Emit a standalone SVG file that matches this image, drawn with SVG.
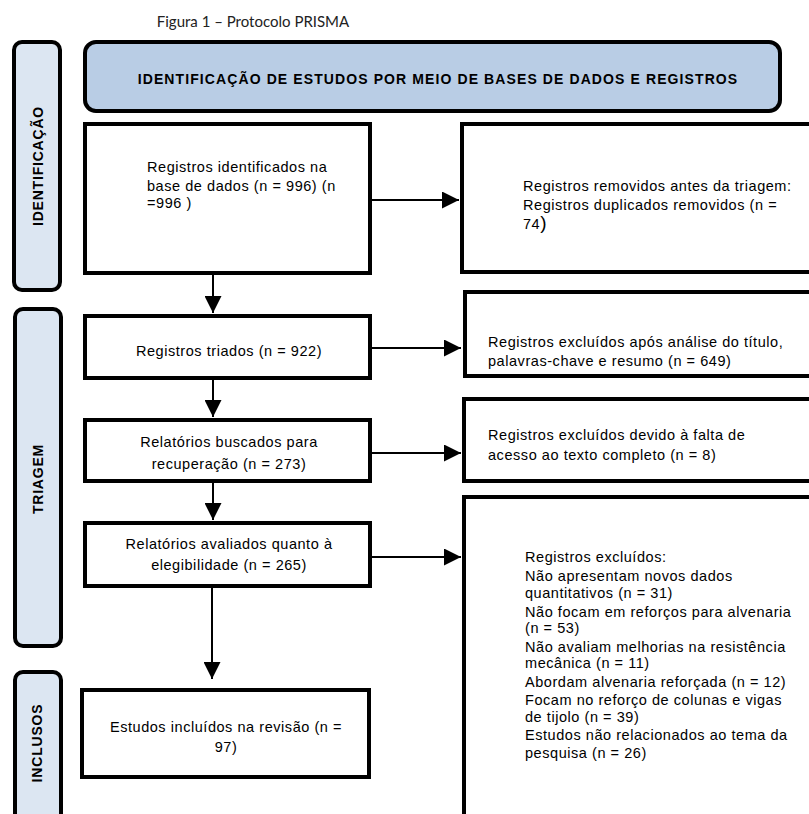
<svg xmlns="http://www.w3.org/2000/svg" width="809" height="814" viewBox="0 0 809 814">
<defs>
<style>
.box{fill:#fff;stroke:#000;stroke-width:4}
.lbl{fill:#dce6f2;stroke:#000;stroke-width:4}
.hdr{fill:#b9cde5;stroke:#000;stroke-width:4}
.t{font-family:"Liberation Sans",Arial,sans-serif;font-size:14.5px;letter-spacing:0.55px;fill:#000}
.c{text-anchor:middle}
.b{font-family:"Liberation Sans",Arial,sans-serif;font-size:14px;font-weight:bold;letter-spacing:0.8px;fill:#000}
.title{font-family:Lato,"Liberation Sans",sans-serif;font-size:15px;fill:#222;text-anchor:middle}
.con{stroke:#000;stroke-width:2;fill:none;marker-end:url(#ah)}
</style>
<marker id="ah" markerUnits="userSpaceOnUse" markerWidth="17" markerHeight="17" refX="17" refY="8.5" orient="auto">
<path d="M0,0 L17,8.5 L0,17 Z" fill="#000"/>
</marker>
</defs>
<rect width="809" height="814" fill="#fff"/>
<text class="title" x="253" y="27">Figura 1 – Protocolo PRISMA</text>

<g id="lbl-identificacao">
<rect class="lbl" x="14" y="42" width="46" height="248" rx="8"/>
<text class="b c" transform="translate(43,166) rotate(-90)">IDENTIFICAÇÃO</text>
</g>
<g id="lbl-triagem">
<rect class="lbl" x="15" y="309" width="46" height="337" rx="8"/>
<text class="b c" transform="translate(43,479) rotate(-90)">TRIAGEM</text>
</g>
<g id="lbl-inclusos">
<rect class="lbl" x="15" y="672" width="46" height="150" rx="8"/>
<text class="b c" transform="translate(42,743) rotate(-90)">INCLUSOS</text>
</g>

<g id="header">
<rect class="hdr" x="85" y="42" width="695" height="69" rx="11"/>
<text class="b c" x="438" y="84" style="letter-spacing:1.1px">IDENTIFICAÇÃO DE ESTUDOS POR MEIO DE BASES DE DADOS E REGISTROS</text>
</g>

<g id="n-identificados">
<rect class="box" x="85" y="124" width="285" height="149"/>
<text class="t" x="147" y="172">Registros identificados na</text>
<text class="t" x="147" y="191">base de dados (n = 996) (n</text>
<text class="t" x="147" y="208">=996 )</text>
</g>
<g id="n-removidos">
<rect class="box" x="462" y="124" width="370" height="148"/>
<text class="t" x="523" y="191">Registros removidos antes da triagem:</text>
<text class="t" x="523" y="210">Registros duplicados removidos (n =</text>
<text class="t" x="523" y="229">74<tspan style="font-size:19px">)</tspan></text>
</g>
<g id="n-triados">
<rect class="box" x="85" y="316" width="285" height="62"/>
<text class="t c" x="229" y="356">Registros triados (n = 922)</text>
</g>
<g id="n-excl-titulo">
<rect class="box" x="465" y="292" width="370" height="84"/>
<text class="t" x="488" y="347">Registros excluídos após análise do título,</text>
<text class="t" x="488" y="366">palavras-chave e resumo (n = 649)</text>
</g>
<g id="n-buscados">
<rect class="box" x="85" y="420" width="285" height="61"/>
<text class="t c" x="229" y="447">Relatórios buscados para</text>
<text class="t c" x="229" y="469">recuperação (n = 273)</text>
</g>
<g id="n-excl-acesso">
<rect class="box" x="464" y="399" width="370" height="82"/>
<text class="t" x="488" y="440">Registros excluídos devido à falta de</text>
<text class="t" x="488" y="460">acesso ao texto completo (n = 8)</text>
</g>
<g id="n-avaliados">
<rect class="box" x="85" y="523" width="285" height="63"/>
<text class="t c" x="229" y="549">Relatórios avaliados quanto à</text>
<text class="t c" x="229" y="570">elegibilidade (n = 265)</text>
</g>
<g id="n-excluidos">
<rect class="box" x="464" y="497" width="370" height="340"/>
<text class="t" x="525" y="562">Registros excluídos:</text>
<text class="t" x="525" y="581">Não apresentam novos dados</text>
<text class="t" x="525" y="598">quantitativos (n = 31)</text>
<text class="t" x="525" y="617">Não focam em reforços para alvenaria</text>
<text class="t" x="525" y="633">(n = 53)</text>
<text class="t" x="525" y="652">Não avaliam melhorias na resistência</text>
<text class="t" x="525" y="668">mecânica (n = 11)</text>
<text class="t" x="525" y="687">Abordam alvenaria reforçada (n = 12)</text>
<text class="t" x="525" y="705">Focam no reforço de colunas e vigas</text>
<text class="t" x="525" y="722">de tijolo (n = 39)</text>
<text class="t" x="525" y="740">Estudos não relacionados ao tema da</text>
<text class="t" x="525" y="758">pesquisa (n = 26)</text>
</g>
<g id="n-incluidos">
<rect class="box" x="82" y="690" width="287" height="87"/>
<text class="t c" x="226" y="732">Estudos incluídos na revisão (n =</text>
<text class="t c" x="226" y="752">97)</text>
</g>

<g id="connectors">
<line class="con" x1="213" y1="275" x2="213" y2="313"/>
<line class="con" x1="213" y1="380" x2="213" y2="417"/>
<line class="con" x1="213" y1="483" x2="213" y2="520"/>
<line class="con" x1="212" y1="588" x2="212" y2="679"/>
<line class="con" x1="372" y1="200" x2="459" y2="200"/>
<line class="con" x1="372" y1="348" x2="461" y2="348"/>
<line class="con" x1="372" y1="453" x2="461" y2="453"/>
<line class="con" x1="372" y1="557" x2="461" y2="557"/>
</g>
</svg>
